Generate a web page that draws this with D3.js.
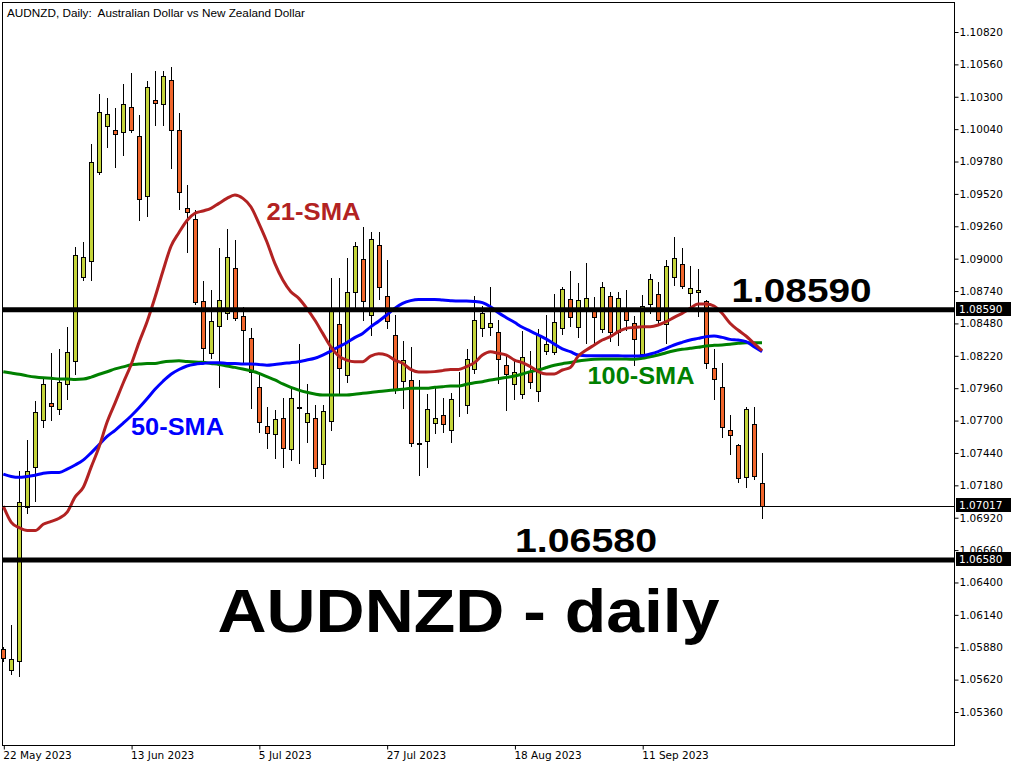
<!DOCTYPE html>
<html><head><meta charset="utf-8">
<script src="https://cdn.jsdelivr.net/npm/d3@7"></script>
<style>html,body{margin:0;padding:0;background:#fff;} svg{display:block;}</style>
</head><body>
<svg id="chart" width="1024" height="768"></svg>
<script>
// ---------- data ----------
const title = "AUDNZD, Daily:  Australian Dollar vs New Zealand Dollar";
const dateLabels = ["22 May 2023","13 Jun 2023","5 Jul 2023","27 Jul 2023","18 Aug 2023","11 Sep 2023"];
const dateLabelBars = [0,16,32,48,64,80];
const priceTicks = [1.10820,1.10560,1.10300,1.10040,1.09780,1.09520,1.09260,1.09000,1.08740,1.08480,1.08220,1.07960,1.07700,1.07440,1.07180,1.06920,1.06660,1.06400,1.06140,1.05880,1.05620,1.05360];

const opens = [1.05865,1.05694,1.05766,1.07005,1.07326,1.07704,1.07842,1.07793,1.07993,1.08181,
1.08854,1.08985,1.09692,1.10069,1.10037,1.10020,1.10214,1.09987,1.09504,1.10273,
1.10244,1.10437,1.10037,1.09404,1.09316,1.08663,1.08245,1.08459,1.08561,1.08922,
1.08540,1.08360,1.07972,1.07659,1.07589,1.07718,1.07469,1.07808,1.07686,1.07718,
1.07349,1.07697,1.08473,1.08066,1.08730,1.09000,1.08548,1.09110,1.08698,1.08384,
1.08015,1.08023,1.07520,1.07533,1.07678,1.07742,1.07622,1.07853,1.07822,1.08111,
1.08441,1.08449,1.08408,1.08143,1.07991,1.07913,1.08093,1.07935,1.08256,1.08253,
1.08441,1.08673,1.08449,1.08588,1.08593,1.08432,1.08697,1.08414,1.08580,1.08486,
1.08234,1.08633,1.08714,1.08473,1.08850,1.08954,1.08722,1.08730,1.08660,1.08119,
1.07967,1.07624,1.07501,1.07244,1.07670,1.07196];
const highs = [1.05880,1.06055,1.07294,1.07540,1.07859,1.08033,1.08246,1.08276,1.08453,1.09090,
1.09130,1.09918,1.10322,1.10289,1.10207,1.10404,1.10490,1.10152,1.10424,1.10503,
1.10503,1.10536,1.10168,1.09593,1.09389,1.08821,1.08748,1.09083,1.09236,1.09150,
1.08615,1.08441,1.08093,1.07812,1.07785,1.07878,1.07967,1.08312,1.07994,1.07825,
1.07825,1.08847,1.08842,1.09003,1.09136,1.09257,1.09217,1.09211,1.08989,1.08548,
1.08339,1.08293,1.08026,1.07913,1.07959,1.07879,1.07924,1.08090,1.08272,1.08700,
1.08620,1.08770,1.08507,1.08226,1.08181,1.08419,1.08259,1.08435,1.08548,1.08716,
1.08775,1.08901,1.08802,1.08962,1.08695,1.08815,1.08735,1.08735,1.08748,1.08540,
1.08708,1.08874,1.08815,1.08989,1.09177,1.09083,1.08944,1.08914,1.08670,1.08275,
1.08160,1.07745,1.07510,1.07806,1.07806,1.07437];
const lows = [1.05770,1.05668,1.05651,1.06955,1.07057,1.07648,1.07704,1.07750,1.07875,1.08075,
1.08828,1.08828,1.09682,1.09899,1.09734,1.09833,1.10021,1.09307,1.09340,1.10076,
1.10076,1.09725,1.09396,1.09056,1.08640,1.08186,1.08200,1.07972,1.08513,1.08508,
1.08160,1.07798,1.07611,1.07477,1.07397,1.07324,1.07383,1.07357,1.07531,1.07258,
1.07236,1.07624,1.07919,1.08012,1.08615,1.08508,1.08387,1.08680,1.08446,1.07920,
1.07798,1.07498,1.07263,1.07330,1.07597,1.07611,1.07531,1.07739,1.07758,1.08080,
1.08382,1.08390,1.08004,1.07785,1.07873,1.07880,1.07964,1.07860,1.08234,1.08234,
1.08392,1.08459,1.08374,1.08320,1.08320,1.08414,1.08341,1.08307,1.08427,1.08146,
1.08200,1.08560,1.08470,1.08320,1.08788,1.08767,1.08601,1.08542,1.08119,1.07870,
1.07565,1.07432,1.07209,1.07169,1.07228,1.06915];
const closes = [1.05792,1.05782,1.07047,1.07294,1.07770,1.07993,1.07816,1.08010,1.08253,1.09031,
1.09015,1.09780,1.10181,1.10158,1.09997,1.10240,1.10030,1.09478,1.10381,1.10247,
1.10464,1.10037,1.09537,1.09377,1.08649,1.08280,1.08497,1.08668,1.09011,1.08526,
1.08427,1.08093,1.07686,1.07597,1.07710,1.07477,1.07878,1.07802,1.07758,1.07316,
1.07777,1.08588,1.08119,1.08735,1.09104,1.08660,1.09155,1.08770,1.08499,1.07951,
1.08184,1.07517,1.07514,1.07790,1.07718,1.07670,1.07870,1.07848,1.08192,1.08507,
1.08561,1.08481,1.08192,1.08071,1.08093,1.08208,1.08012,1.08387,1.08312,1.08489,
1.08754,1.08529,1.08665,1.08681,1.08529,1.08770,1.08408,1.08681,1.08507,1.08352,
1.08620,1.08834,1.08507,1.08941,1.09003,1.08780,1.08762,1.08746,1.08160,1.08031,
1.07646,1.07581,1.07236,1.07790,1.07255,1.07017];

const sma21 = [1.07014,1.06883,1.06840,1.06817,1.06817,1.06867,1.06890,1.06916,1.06965,1.07087,
1.07162,1.07326,1.07490,1.07688,1.07842,1.08000,1.08148,1.08328,1.08493,1.08690,
1.08903,1.09100,1.09210,1.09307,1.09364,1.09383,1.09404,1.09444,1.09484,1.09511,
1.09484,1.09417,1.09284,1.09136,1.08962,1.08829,1.08735,1.08681,1.08601,1.08507,
1.08400,1.08293,1.08218,1.08186,1.08173,1.08173,1.08218,1.08237,1.08226,1.08186,
1.08160,1.08111,1.08090,1.08090,1.08093,1.08101,1.08111,1.08111,1.08133,1.08165,
1.08226,1.08253,1.08240,1.08226,1.08186,1.08165,1.08133,1.08093,1.08074,1.08074,
1.08106,1.08127,1.08218,1.08267,1.08307,1.08347,1.08374,1.08414,1.08440,1.08448,
1.08454,1.08454,1.08467,1.08494,1.08529,1.08561,1.08601,1.08636,1.08636,1.08620,
1.08561,1.08481,1.08427,1.08379,1.08320,1.08261];
const sma50 = [1.07270,1.07251,1.07244,1.07251,1.07261,1.07277,1.07284,1.07284,1.07310,1.07343,
1.07382,1.07441,1.07507,1.07573,1.07622,1.07678,1.07737,1.07803,1.07875,1.07951,
1.08016,1.08072,1.08110,1.08138,1.08152,1.08159,1.08165,1.08165,1.08159,1.08159,
1.08154,1.08154,1.08151,1.08145,1.08151,1.08159,1.08165,1.08173,1.08186,1.08200,
1.08226,1.08258,1.08293,1.08325,1.08366,1.08400,1.08452,1.08498,1.08548,1.08601,
1.08641,1.08663,1.08673,1.08673,1.08673,1.08668,1.08663,1.08660,1.08660,1.08657,
1.08647,1.08614,1.08566,1.08526,1.08489,1.08449,1.08419,1.08387,1.08354,1.08314,
1.08276,1.08253,1.08226,1.08221,1.08221,1.08221,1.08221,1.08221,1.08218,1.08218,
1.08221,1.08234,1.08253,1.08280,1.08307,1.08328,1.08347,1.08360,1.08374,1.08379,
1.08368,1.08352,1.08347,1.08334,1.08293,1.08253];
const sma100 = [1.08092,1.08082,1.08072,1.08059,1.08049,1.08043,1.08040,1.08033,1.08033,1.08030,
1.08033,1.08049,1.08072,1.08092,1.08115,1.08131,1.08148,1.08154,1.08158,1.08158,
1.08171,1.08177,1.08180,1.08174,1.08170,1.08168,1.08159,1.08151,1.08138,1.08127,
1.08114,1.08100,1.08079,1.08052,1.08026,1.07994,1.07967,1.07945,1.07927,1.07913,
1.07905,1.07905,1.07905,1.07905,1.07911,1.07919,1.07926,1.07934,1.07940,1.07945,
1.07951,1.07959,1.07959,1.07959,1.07967,1.07972,1.07978,1.07978,1.07991,1.08004,
1.08012,1.08026,1.08036,1.08047,1.08058,1.08074,1.08093,1.08106,1.08126,1.08144,
1.08157,1.08166,1.08178,1.08186,1.08192,1.08194,1.08194,1.08194,1.08194,1.08192,
1.08200,1.08213,1.08226,1.08245,1.08261,1.08272,1.08280,1.08288,1.08299,1.08304,
1.08307,1.08312,1.08320,1.08325,1.08325,1.08325];

const levelValues = [1.08590, 1.06580];
const levelLabels = ["1.08590", "1.06580"];
const lastPrice = 1.07017;
const smaLabels = ["21-SMA", "50-SMA", "100-SMA"];
const bigLabel = "AUDNZD - daily";

// ---------- layout ----------
const svg = d3.select("#chart");
const plot = {left: 2, right: 954, top: 2, bottom: 745};
const x = d3.scaleLinear().domain([0, 95]).range([3.3, 762]);
const y = d3.scaleLinear().domain([1.0536, 1.1082]).range([712, 32]);
const bullFill = "#c4d43a", bearFill = "#f0652b";
const colRed = "#b22222", colBlue = "#0000ff", colGreen = "#008000";
const axisFont = "'DejaVu Sans', sans-serif";
const boldFont = "'Liberation Sans', Arial, sans-serif";

svg.append("rect").attr("width",1024).attr("height",768).attr("fill","#fff");

// frame
svg.append("rect").attr("x",plot.left+0.5).attr("y",plot.top+0.5)
  .attr("width",plot.right-plot.left).attr("height",plot.bottom-plot.top)
  .attr("fill","none").attr("stroke","#000").attr("stroke-width",1);

// title (keep the double space)
svg.append("text").attr("x",7).attr("y",17).text(title)
  .attr("xml:space","preserve").style("white-space","pre")
  .attr("font-family",boldFont).attr("font-size",11.5)
  .attr("textLength",298).attr("lengthAdjust","spacingAndGlyphs").attr("fill","#000");

// right axis
const yAxis = d3.axisRight(y).tickValues(priceTicks).tickSize(4).tickPadding(1)
  .tickFormat(d3.format(".5f"));
const gy = svg.append("g").attr("transform",`translate(${plot.right+0.5},0)`).call(yAxis);
gy.select(".domain").remove();
gy.selectAll("text").attr("font-family",axisFont).attr("font-size",10.5).attr("fill","#000");
gy.selectAll("line").attr("stroke","#000");

// bottom axis
const xAxis = d3.axisBottom(x).tickValues(dateLabelBars).tickSize(4).tickPadding(2)
  .tickFormat((d,i)=>dateLabels[i]);
const gx = svg.append("g").attr("transform",`translate(0.5,${plot.bottom+0.5})`).call(xAxis);
gx.select(".domain").remove();
gx.selectAll("text").attr("font-family",axisFont).attr("font-size",10.5).attr("fill","#000")
  .attr("text-anchor","start").attr("dx",-1);
gx.selectAll("line").attr("stroke","#000");

// candles
const bars = d3.range(opens.length).map(i => ({i, o: opens[i], h: highs[i], l: lows[i], c: closes[i]}));
const gc = svg.append("g");
gc.selectAll("line.wick").data(bars).join("line").attr("class","wick")
  .attr("x1",d=>Math.round(x(d.i))+0.5).attr("x2",d=>Math.round(x(d.i))+0.5)
  .attr("y1",d=>Math.round(y(d.h))).attr("y2",d=>Math.round(y(d.l))+1)
  .attr("stroke","#000").attr("stroke-width",1);
gc.selectAll("rect.body").data(bars).join("rect").attr("class","body")
  .attr("x",d=>Math.round(x(d.i))-1.5).attr("width",4)
  .attr("y",d=>Math.round(y(Math.max(d.o,d.c)))+0.5)
  .attr("height",d=>Math.max(0, Math.round(y(Math.min(d.o,d.c))) - Math.round(y(Math.max(d.o,d.c)))))
  .attr("fill",d=>d.c>=d.o ? bullFill : bearFill)
  .attr("stroke","#000").attr("stroke-width",1);

// moving averages
const line = d3.line().x((d,i)=>x(i)).y(d=>y(d)).curve(d3.curveMonotoneX);
[[sma100,colGreen],[sma50,colBlue],[sma21,colRed]].forEach(([s,c])=>{
  svg.append("path").attr("d",line(s)).attr("fill","none").attr("stroke",c)
    .attr("stroke-width",3).attr("stroke-linejoin","round");
});

// horizontal levels
svg.selectAll("line.level").data(levelValues).join("line").attr("class","level")
  .attr("x1",plot.left).attr("x2",plot.right).attr("y1",d=>y(d)).attr("y2",d=>y(d))
  .attr("stroke","#000").attr("stroke-width",5);
svg.append("line").attr("x1",plot.left).attr("x2",plot.right)
  .attr("y1",Math.round(y(lastPrice))+0.5).attr("y2",Math.round(y(lastPrice))+0.5)
  .attr("stroke","#000").attr("stroke-width",1);

// price boxes on axis
const boxes = [...levelValues, lastPrice];
const gb = svg.append("g");
boxes.forEach(v=>{
  const cy = Math.round(y(v));
  gb.append("rect").attr("x",plot.right+2).attr("y",cy-8).attr("width",55).attr("height",14).attr("fill","#000");
  gb.append("text").attr("x",plot.right+5).attr("y",cy-1).attr("dy","0.35em")
    .attr("font-family",axisFont).attr("font-size",10.5).attr("fill","#fff").text(d3.format(".5f")(v));
});

// SMA labels
const smaLabelPos = [
  {t: smaLabels[0], c: colRed, x: 266.5, y: 220, w: 94},
  {t: smaLabels[1], c: colBlue, x: 131, y: 435, w: 93},
  {t: smaLabels[2], c: colGreen, x: 587.5, y: 384, w: 107}
];
smaLabelPos.forEach(p=>{
  svg.append("text").attr("x",p.x).attr("y",p.y).text(p.t).attr("fill",p.c)
    .attr("font-family",boldFont).attr("font-weight","bold").attr("font-size",23)
    .attr("textLength",p.w).attr("lengthAdjust","spacingAndGlyphs");
});

// level labels
[[levelLabels[0],731.5,301.7,140],[levelLabels[1],515,551.7,142]].forEach(([t,lx,ly,w])=>{
  svg.append("text").attr("x",lx).attr("y",ly).text(t).attr("fill","#000")
    .attr("font-family",boldFont).attr("font-weight","bold").attr("font-size",34)
    .attr("textLength",w).attr("lengthAdjust","spacingAndGlyphs");
});

// big label
svg.append("text").attr("x",217.5).attr("y",631.7).text(bigLabel).attr("fill","#000")
  .attr("font-family",boldFont).attr("font-weight","bold").attr("font-size",60.5)
  .attr("textLength",502).attr("lengthAdjust","spacingAndGlyphs");
</script>
</body></html>
